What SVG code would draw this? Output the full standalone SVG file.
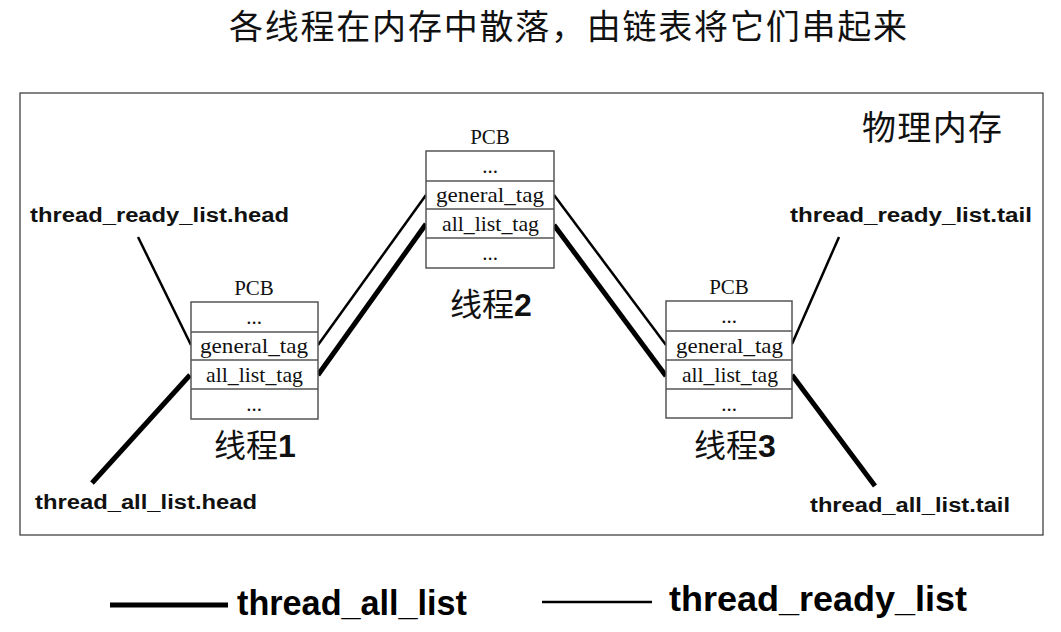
<svg xmlns="http://www.w3.org/2000/svg" width="1061" height="632" viewBox="0 0 1061 632">
<style>
.cjk{font-family:"Liberation Sans","Noto Sans CJK SC",sans-serif;fill:#111}
.lbl{font-family:"Liberation Sans",Arial,sans-serif;font-weight:bold;font-size:20px;fill:#111}
.pcb{font-family:"Liberation Serif","Times New Roman",serif;font-size:21px;fill:#111}
.box{fill:#fff;stroke:#555;stroke-width:1.5}
.thin{stroke:#000;stroke-width:2.5;fill:none}
.thick{stroke:#000;stroke-width:5;fill:none}
.leg{font-family:"Liberation Sans Narrow","Liberation Sans",sans-serif;font-weight:bold;font-size:35px;fill:#000}
</style>
<rect width="1061" height="632" fill="#fff"/>
<text class="cjk" x="229" y="39" font-size="34" textLength="678" lengthAdjust="spacing">各线程在内存中散落，由链表将它们串起来</text>
<rect x="20" y="93" width="1023" height="442" fill="none" stroke="#333" stroke-width="1.2"/>
<text class="cjk" x="862" y="140" font-size="34" textLength="140" lengthAdjust="spacing">物理内存</text>

<g id="connectors">
<line class="thin" x1="138" y1="237" x2="191" y2="345"/>
<line class="thick" x1="92" y1="483" x2="190" y2="375"/>
<line class="thin" x1="318" y1="345" x2="426" y2="195"/>
<line class="thick" x1="318" y1="375" x2="426" y2="224"/>
<line class="thin" x1="554" y1="195" x2="666" y2="345"/>
<line class="thick" x1="554" y1="225" x2="666" y2="376"/>
<line class="thin" x1="792" y1="344" x2="839" y2="237"/>
<line class="thick" x1="792" y1="375" x2="875" y2="486"/>
</g>

<g id="thread1">
<text class="pcb" x="254" y="295" text-anchor="middle">PCB</text>
<rect class="box" x="191" y="302" width="127" height="117"/>
<line class="box" x1="191" y1="332" x2="318" y2="332"/>
<line class="box" x1="191" y1="360" x2="318" y2="360"/>
<line class="box" x1="191" y1="389" x2="318" y2="389"/>
<text class="pcb" x="254" y="324" text-anchor="middle">...</text>
<text class="pcb" x="200" y="353" textLength="108" lengthAdjust="spacingAndGlyphs">general_tag</text>
<text class="pcb" x="206" y="382" textLength="97" lengthAdjust="spacingAndGlyphs">all_list_tag</text>
<text class="pcb" x="254" y="411" text-anchor="middle">...</text>
<text class="cjk" x="255" y="457" font-size="32" text-anchor="middle">线程<tspan font-weight="bold">1</tspan></text>
</g>

<g id="thread2">
<text class="pcb" x="490" y="144" text-anchor="middle">PCB</text>
<rect class="box" x="426" y="151" width="128" height="117"/>
<line class="box" x1="426" y1="181" x2="554" y2="181"/>
<line class="box" x1="426" y1="209" x2="554" y2="209"/>
<line class="box" x1="426" y1="238" x2="554" y2="238"/>
<text class="pcb" x="490" y="173" text-anchor="middle">...</text>
<text class="pcb" x="436" y="202" textLength="108" lengthAdjust="spacingAndGlyphs">general_tag</text>
<text class="pcb" x="442" y="231" textLength="97" lengthAdjust="spacingAndGlyphs">all_list_tag</text>
<text class="pcb" x="490" y="260" text-anchor="middle">...</text>
<text class="cjk" x="491" y="316" font-size="32" text-anchor="middle">线程<tspan font-weight="bold">2</tspan></text>
</g>

<g id="thread3">
<text class="pcb" x="729" y="294" text-anchor="middle">PCB</text>
<rect class="box" x="666" y="301" width="126" height="117"/>
<line class="box" x1="666" y1="331" x2="792" y2="331"/>
<line class="box" x1="666" y1="360" x2="792" y2="360"/>
<line class="box" x1="666" y1="389" x2="792" y2="389"/>
<text class="pcb" x="729" y="323" text-anchor="middle">...</text>
<text class="pcb" x="676" y="353" textLength="107" lengthAdjust="spacingAndGlyphs">general_tag</text>
<text class="pcb" x="682" y="382" textLength="96" lengthAdjust="spacingAndGlyphs">all_list_tag</text>
<text class="pcb" x="729" y="411" text-anchor="middle">...</text>
<text class="cjk" x="735" y="457" font-size="32" text-anchor="middle">线程<tspan font-weight="bold">3</tspan></text>
</g>

<g id="labels">
<text class="lbl" x="30" y="222" textLength="259" lengthAdjust="spacingAndGlyphs">thread_ready_list.head</text>
<text class="lbl" x="35" y="509" textLength="222" lengthAdjust="spacingAndGlyphs">thread_all_list.head</text>
<text class="lbl" x="790" y="222" textLength="242" lengthAdjust="spacingAndGlyphs">thread_ready_list.tail</text>
<text class="lbl" x="810" y="512" textLength="200" lengthAdjust="spacingAndGlyphs">thread_all_list.tail</text>
</g>

<g id="legend">
<line class="thick" x1="110" y1="605" x2="228" y2="605" stroke-width="4"/>
<text class="leg" x="237" y="615" textLength="230" lengthAdjust="spacingAndGlyphs">thread_all_list</text>
<line class="thin" x1="542" y1="602" x2="652" y2="602" stroke-width="2"/>
<text class="leg" x="669" y="611" textLength="298" lengthAdjust="spacingAndGlyphs">thread_ready_list</text>
</g>
</svg>
